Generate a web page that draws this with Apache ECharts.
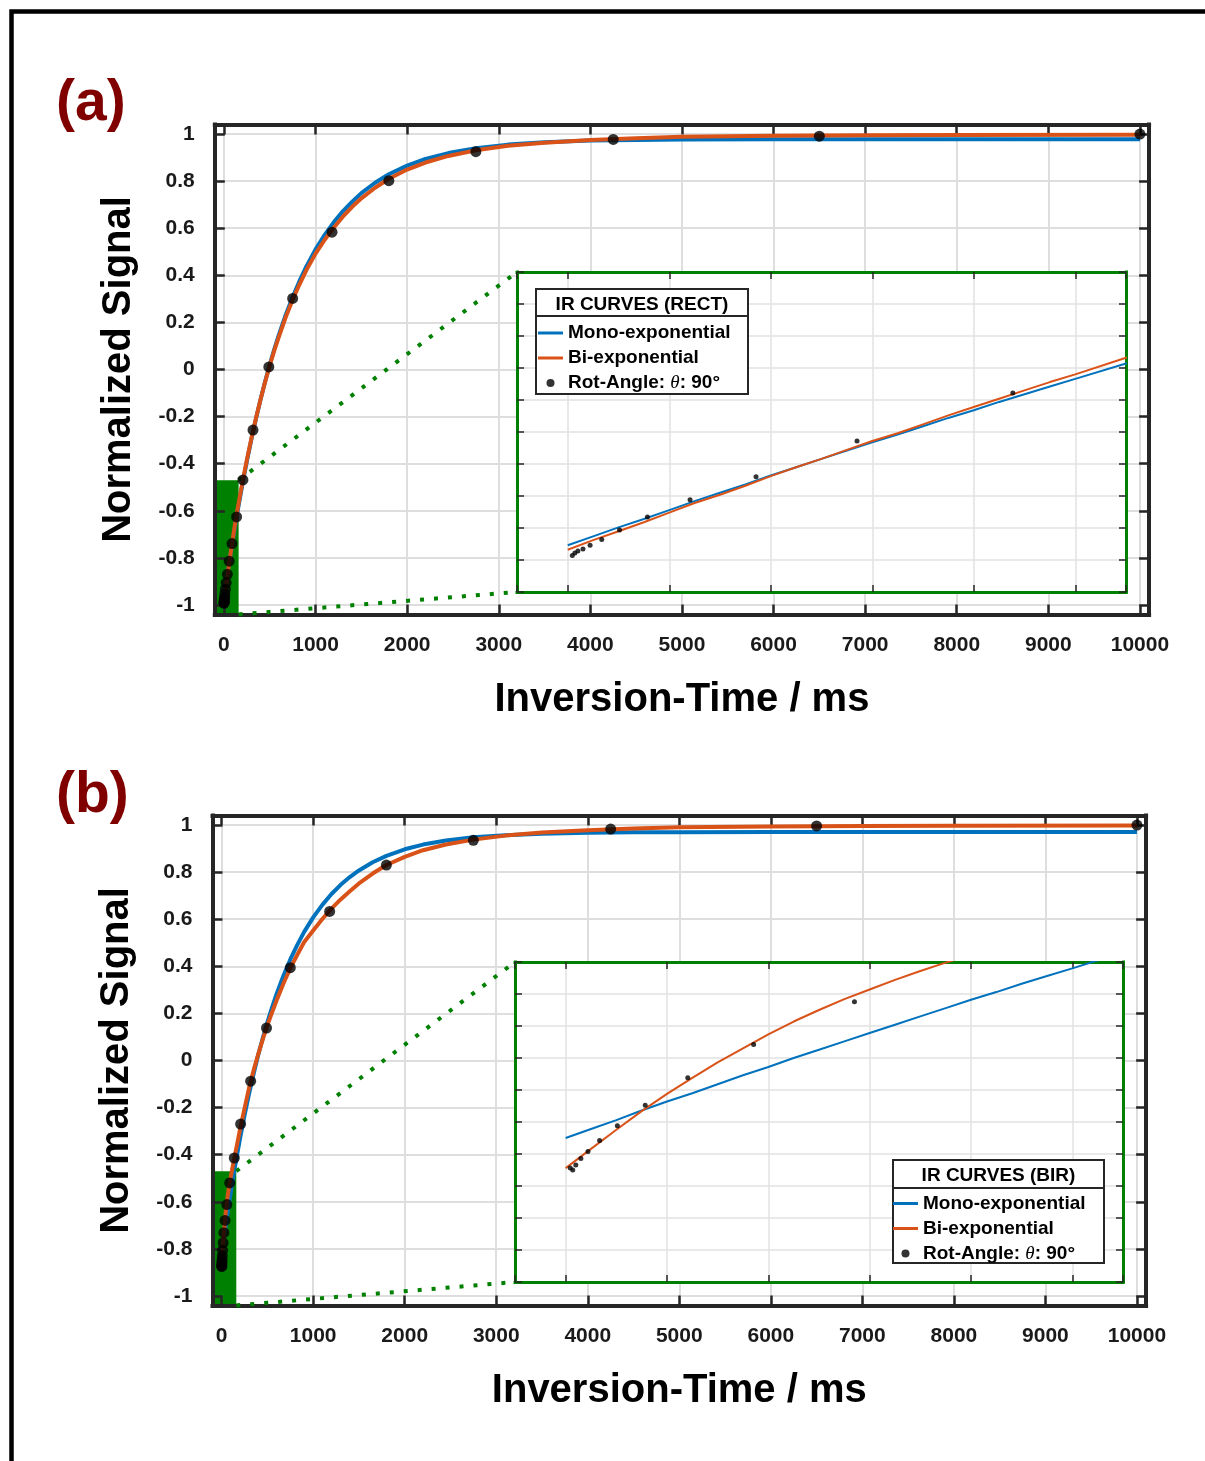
<!DOCTYPE html>
<html><head><meta charset="utf-8">
<script src="https://cdn.jsdelivr.net/npm/echarts@6.0.0/dist/echarts.min.js"></script>
<style>html,body{margin:0;padding:0;background:#fff}#c{width:1205px;height:1461px}</style>
</head><body><div id="c"></div>
<script>
// ---------- data ----------
const N_MONO = 'Mono-exponential';
const N_BI = 'Bi-exponential';
const N_PTS = 'Rot-Angle: θ: 90°';
const LEGEND_TITLES = ['IR CURVES (RECT)', 'IR CURVES (BIR)'];
const PANEL_LABELS = ['(a)', '(b)'];
const X_NAME = 'Inversion-Time / ms';
const Y_NAME = 'Normalized Signal';

const X_TICKS = [0, 1000, 2000, 3000, 4000, 5000, 6000, 7000, 8000, 9000, 10000];
const Y_TICKS = [-1, -0.8, -0.6, -0.4, -0.2, 0, 0.2, 0.4, 0.6, 0.8, 1];
const Y_TICK_LABELS = ['-1', '-0.8', '-0.6', '-0.4', '-0.2', '0', '0.2', '0.4', '0.6', '0.8', '1'];

const MAIN_X = [-100, 10100];
const MAIN_Y = [-1.04, 1.04];
const INSET_X = [-10, 110];
const INSET_Y = [-1.05, -0.55];
const ZOOM_X = [-100, 160];
const ZOOM_Y = [-1.04, -0.47];

// fitted curves
const T_CURVE = [0, 5, 10, 15, 20, 25, 30, 35, 40, 45, 50, 55, 60, 65, 70, 75, 80, 85, 90, 95, 100, 110, 120, 130, 140, 150, 175, 200, 250, 300, 350, 400, 450, 500, 550, 600, 675, 750, 825, 900, 1000, 1100, 1200, 1300, 1400, 1500, 1650, 1800, 2000, 2200, 2450, 2750, 3100, 3500, 4000, 4500, 5000, 6000, 7000, 8000, 10000];
const A_MONO = [-0.977, -0.963, -0.949, -0.936, -0.922, -0.908, -0.895, -0.882, -0.868, -0.855, -0.842, -0.829, -0.816, -0.804, -0.791, -0.778, -0.766, -0.753, -0.741, -0.729, -0.717, -0.693, -0.669, -0.646, -0.623, -0.600, -0.545, -0.491, -0.390, -0.296, -0.208, -0.126, -0.050, 0.021, 0.087, 0.148, 0.233, 0.308, 0.376, 0.438, 0.510, 0.572, 0.626, 0.673, 0.713, 0.749, 0.793, 0.829, 0.866, 0.894, 0.919, 0.940, 0.955, 0.965, 0.972, 0.975, 0.977, 0.978, 0.978, 0.978, 0.978];
const A_BI   = [-0.984, -0.969, -0.955, -0.941, -0.926, -0.911, -0.898, -0.884, -0.869, -0.855, -0.842, -0.828, -0.814, -0.802, -0.788, -0.774, -0.761, -0.748, -0.735, -0.722, -0.710, -0.684, -0.660, -0.637, -0.613, -0.590, -0.536, -0.483, -0.384, -0.292, -0.206, -0.126, -0.052, 0.017, 0.081, 0.140, 0.223, 0.296, 0.362, 0.422, 0.492, 0.551, 0.603, 0.650, 0.691, 0.727, 0.772, 0.810, 0.849, 0.879, 0.907, 0.931, 0.950, 0.963, 0.975, 0.982, 0.988, 0.993, 0.995, 0.996, 0.997];
const B_MONO = [-0.825, -0.811, -0.797, -0.782, -0.768, -0.755, -0.741, -0.727, -0.714, -0.700, -0.687, -0.674, -0.661, -0.648, -0.635, -0.622, -0.609, -0.597, -0.584, -0.572, -0.560, -0.535, -0.511, -0.488, -0.465, -0.442, -0.387, -0.333, -0.233, -0.141, -0.055, 0.024, 0.096, 0.163, 0.225, 0.283, 0.360, 0.429, 0.490, 0.545, 0.608, 0.661, 0.707, 0.746, 0.779, 0.807, 0.842, 0.869, 0.897, 0.917, 0.934, 0.948, 0.957, 0.963, 0.967, 0.969, 0.969, 0.970, 0.970, 0.970, 0.970];
const B_BI   = [-0.872, -0.842, -0.812, -0.783, -0.756, -0.731, -0.707, -0.685, -0.663, -0.643, -0.625, -0.608, -0.593, -0.578, -0.564, -0.551, -0.539, -0.527, -0.515, -0.504, -0.493, -0.472, -0.452, -0.432, -0.412, -0.392, -0.343, -0.294, -0.203, -0.115, -0.040, 0.027, 0.091, 0.150, 0.204, 0.255, 0.327, 0.392, 0.448, 0.502, 0.552, 0.601, 0.645, 0.684, 0.719, 0.752, 0.794, 0.830, 0.865, 0.893, 0.917, 0.938, 0.955, 0.968, 0.978, 0.985, 0.990, 0.994, 0.996, 0.997, 0.998];

// measured points
const T_PTS = [0.9, 1.4, 2.0, 3.0, 4.4, 6.7, 10.2, 15.7, 24.1, 37.1, 57, 87.7, 138, 207, 317, 490, 750, 1180, 1800, 2750, 4250, 6500, 10000];
const A_PTS = [-0.993, -0.989, -0.986, -0.983, -0.977, -0.968, -0.953, -0.933, -0.906, -0.870, -0.814, -0.739, -0.626, -0.469, -0.257, 0.011, 0.302, 0.583, 0.802, 0.925, 0.977, 0.991, 1.0];
const B_PTS = [-0.872, -0.875, -0.867, -0.857, -0.846, -0.829, -0.806, -0.774, -0.731, -0.679, -0.612, -0.520, -0.414, -0.270, -0.088, 0.138, 0.394, 0.633, 0.830, 0.935, 0.983, 0.996, 1.0];

// ---------- styling ----------
const FONT = '"Liberation Sans", Arial, Helvetica, sans-serif';
const DARK = '#262626';
const GRIDC = '#dedede';
const BLUE = '#0072BD';
const ORANGE = '#D95319';
const GREEN = '#008000';

const pairs = (xs, ys) => xs.map((x, i) => [x, ys[i]]);

const chart = echarts.init(document.getElementById('c'), null, {renderer: 'canvas', width: 1205, height: 1461});

const MAIN_GRIDS = [
  {left: 214.8, top: 124.6, width: 934.3, height: 489.8},
  {left: 212.5, top: 815.6, width: 933.6, height: 489.8}
];
const INSET_GRIDS = [
  {left: 517, top: 272, width: 609, height: 320},
  {left: 515, top: 962, width: 608, height: 320}
];

function mainX(g, top) {
  return {
    gridIndex: g, type: 'value', position: top ? 'top' : 'bottom', z: 1,
    min: MAIN_X[0], max: MAIN_X[1], splitNumber: 10,
    axisLine: {show: true, onZero: false, lineStyle: {color: DARK, width: 4, cap: 'square'}},
    axisTick: {show: true, inside: true, length: 10, lineStyle: {color: DARK, width: 2.5}},
    axisLabel: {show: !top, margin: 20, color: '#1a1a1a', fontSize: 21, fontWeight: 'bold', fontFamily: FONT,
      formatter: v => { const i = X_TICKS.findIndex(t => Math.abs(t - v) < 1e-6); return i >= 0 ? String(X_TICKS[i]) : ''; }},
    splitLine: {show: !top, showMinLine: false, showMaxLine: false, lineStyle: {color: GRIDC, width: 2}},
    name: top ? '' : X_NAME, nameLocation: 'middle', nameGap: 66,
    nameTextStyle: {fontSize: 40, fontWeight: 'bold', fontFamily: FONT, color: '#000'}
  };
}
function mainY(g, right) {
  return {
    gridIndex: g, type: 'value', position: right ? 'right' : 'left', z: 1,
    min: MAIN_Y[0], max: MAIN_Y[1], splitNumber: 10,
    axisLine: {show: true, onZero: false, lineStyle: {color: DARK, width: 4, cap: 'square'}},
    axisTick: {show: true, inside: true, length: 10, lineStyle: {color: DARK, width: 2.5}},
    axisLabel: {show: !right, margin: 20, color: '#1a1a1a', fontSize: 21, fontWeight: 'bold', fontFamily: FONT,
      formatter: v => { const i = Y_TICKS.findIndex(t => Math.abs(t - v) < 1e-6); return i >= 0 ? Y_TICK_LABELS[i] : ''; }},
    splitLine: {show: !right, showMinLine: false, showMaxLine: false, lineStyle: {color: GRIDC, width: 2}},
    name: right ? '' : Y_NAME, nameLocation: 'middle', nameGap: 76, nameRotate: 90,
    nameTextStyle: {fontSize: 40, fontWeight: 'bold', fontFamily: FONT, color: '#000'}
  };
}
function insetX(g, top) {
  return {
    gridIndex: g, type: 'value', position: top ? 'top' : 'bottom', z: 6,
    min: INSET_X[0], max: INSET_X[1], splitNumber: 6,
    axisLine: {show: true, onZero: false, lineStyle: {color: GREEN, width: 3, cap: 'square'}},
    axisTick: {show: true, inside: true, length: 7, lineStyle: {color: DARK, width: 1.5}},
    axisLabel: {show: false},
    splitLine: {show: !top, showMinLine: false, showMaxLine: false, lineStyle: {color: '#e2e2e2', width: 1.5}}
  };
}
function insetY(g, right) {
  return {
    gridIndex: g, type: 'value', position: right ? 'right' : 'left', z: 6,
    min: INSET_Y[0], max: INSET_Y[1], splitNumber: 10,
    axisLine: {show: true, onZero: false, lineStyle: {color: GREEN, width: 3, cap: 'square'}},
    axisTick: {show: true, inside: true, length: 7, lineStyle: {color: DARK, width: 1.5}},
    axisLabel: {show: false},
    splitLine: {show: !right, showMinLine: false, showMaxLine: false, lineStyle: {color: '#e2e2e2', width: 1.5}}
  };
}

const xAxes = [], yAxes = [], grids = [], series = [];
const PANELS = [
  {mono: A_MONO, bi: A_BI, pts: A_PTS},
  {mono: B_MONO, bi: B_BI, pts: B_PTS}
];
PANELS.forEach((p, k) => {
  const gm = k * 2, gi = k * 2 + 1;
  grids.push(Object.assign({show: false}, MAIN_GRIDS[k]));
  grids.push(Object.assign({show: true, backgroundColor: '#fff', borderWidth: 0, z: 5}, INSET_GRIDS[k]));
  const xm = xAxes.length; xAxes.push(mainX(gm, false), mainX(gm, true));
  const ym = yAxes.length; yAxes.push(mainY(gm, false), mainY(gm, true));
  const xi = xAxes.length; xAxes.push(insetX(gi, false), insetX(gi, true));
  const yi = yAxes.length; yAxes.push(insetY(gi, false), insetY(gi, true));
  const lineBase = {type: 'line', symbol: 'none', showSymbol: false, smooth: false, clip: true, silent: true};
  series.push(Object.assign({}, lineBase, {
    name: N_MONO, xAxisIndex: xm, yAxisIndex: ym, z: 2,
    data: pairs(T_CURVE, p.mono), lineStyle: {color: BLUE, width: 4, join: 'round'}, itemStyle: {color: BLUE},
    markArea: {silent: true, z: 1, itemStyle: {color: GREEN, opacity: 1},
      data: [[{coord: [ZOOM_X[0], ZOOM_Y[0]]}, {coord: [ZOOM_X[1], ZOOM_Y[1]]}]]}
  }));
  series.push(Object.assign({}, lineBase, {
    name: N_BI, xAxisIndex: xm, yAxisIndex: ym, z: 3,
    data: pairs(T_CURVE, p.bi), lineStyle: {color: ORANGE, width: 4, join: 'round'}, itemStyle: {color: ORANGE}
  }));
  series.push({type: 'scatter', name: N_PTS, xAxisIndex: xm, yAxisIndex: ym, z: 4, silent: true,
    data: pairs(T_PTS, p.pts), symbolSize: 11, itemStyle: {color: '#000'}});
  series.push(Object.assign({}, lineBase, {
    name: N_MONO, xAxisIndex: xi, yAxisIndex: yi, z: 7,
    data: pairs(T_CURVE, p.mono), lineStyle: {color: BLUE, width: 2, join: 'round'}, itemStyle: {color: BLUE}
  }));
  series.push(Object.assign({}, lineBase, {
    name: N_BI, xAxisIndex: xi, yAxisIndex: yi, z: 8,
    data: pairs(T_CURVE, p.bi), lineStyle: {color: ORANGE, width: 2, join: 'round'}, itemStyle: {color: ORANGE}
  }));
  series.push({type: 'scatter', name: N_PTS, xAxisIndex: xi, yAxisIndex: yi, z: 9, silent: true, clip: true,
    data: pairs(T_PTS, p.pts), symbolSize: 5, itemStyle: {color: '#000'}});
});

const LINE_ICON = 'path://M0,0L25,0L25,3L0,3Z';
const LEGEND_POS = [{left: 538, top: 323.5}, {left: 893, top: 1194}];
const legends = LEGEND_POS.map(pos => ({
  orient: 'vertical', left: pos.left, top: pos.top, padding: 0, z: 30,
  itemWidth: 25, itemHeight: 8, itemGap: 6, selectedMode: false,
  itemStyle: {borderWidth: 0},
  data: [{name: N_MONO, icon: LINE_ICON}, {name: N_BI, icon: LINE_ICON}, {name: N_PTS, icon: 'circle'}],
  formatter: name => name === N_PTS ? '{t|Rot-Angle: }{th|θ}{t|: 90°}' : '{t|' + name + '}',
  textStyle: {
    fontFamily: FONT, fontWeight: 'bold', fontSize: 19, color: '#000', lineHeight: 19,
    rich: {
      t: {fontFamily: FONT, fontWeight: 'bold', fontSize: 19, color: '#000', lineHeight: 19},
      th: {fontFamily: '"Liberation Serif", "DejaVu Serif", serif', fontStyle: 'italic', fontWeight: 'normal', fontSize: 19, color: '#000', lineHeight: 19}
    }
  }
}));

chart.setOption({
  animation: false,
  backgroundColor: '#fff',
  title: [
    {text: PANEL_LABELS[0], left: 56, top: 76, padding: 0, textStyle: {fontSize: 57, fontWeight: 'bold', color: '#800000', fontFamily: FONT}},
    {text: PANEL_LABELS[1], left: 56, top: 768, padding: 0, textStyle: {fontSize: 57, fontWeight: 'bold', color: '#800000', fontFamily: FONT}}
  ],
  grid: grids,
  xAxis: xAxes,
  yAxis: yAxes,
  legend: legends,
  series: series
});

// ---------- decorations positioned through the axes ----------
const BOXES = [
  {x: 536, y: 289, w: 212, h: 105, sep: 316},
  {x: 893, y: 1160, w: 211, h: 103, sep: 1188}
];
const elements = [];
[0, 1].forEach(k => {
  const mainF = {xAxisIndex: k * 4, yAxisIndex: k * 4};
  const insF = {xAxisIndex: k * 4 + 2, yAxisIndex: k * 4 + 2};
  const p1 = chart.convertToPixel(mainF, [ZOOM_X[1], ZOOM_Y[1]]);
  const q1 = chart.convertToPixel(insF, [INSET_X[0], INSET_Y[1]]);
  const p2 = chart.convertToPixel(mainF, [ZOOM_X[1], ZOOM_Y[0]]);
  const q2 = chart.convertToPixel(insF, [INSET_X[0], INSET_Y[0]]);
  [[p1, q1], [p2, q2]].forEach(([p, q]) => {
    elements.push({type: 'line', z: 3, silent: true,
      shape: {x1: p[0], y1: p[1], x2: q[0], y2: q[1]},
      style: {stroke: GREEN, lineWidth: 4, lineDash: [4, 10]}});
  });
  const b = BOXES[k];
  elements.push({type: 'rect', z: 20, silent: true, shape: {x: b.x, y: b.y, width: b.w, height: b.h},
    style: {fill: '#fff', stroke: DARK, lineWidth: 2}});
  elements.push({type: 'line', z: 21, silent: true, shape: {x1: b.x, y1: b.sep, x2: b.x + b.w, y2: b.sep},
    style: {stroke: DARK, lineWidth: 2}});
  elements.push({type: 'text', z: 22, silent: true, x: b.x + b.w / 2, y: (b.y + b.sep) / 2 + 2,
    style: {text: LEGEND_TITLES[k], fill: '#000', font: 'bold 19px ' + FONT, textAlign: 'center', textVerticalAlign: 'middle'}});
});
elements.push({type: 'rect', z: 50, silent: true, shape: {x: 11.5, y: 11.5, width: 1400, height: 1600},
  style: {fill: 'none', stroke: '#000', lineWidth: 4.5}});
chart.setOption({graphic: {elements: elements}});
</script></body></html>
